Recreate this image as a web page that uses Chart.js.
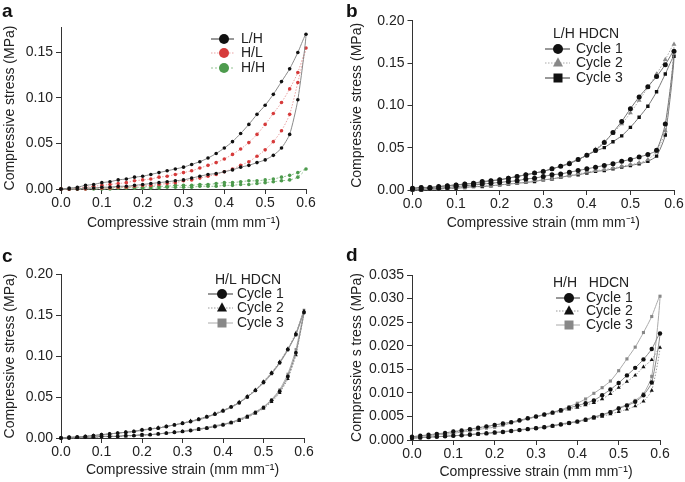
<!DOCTYPE html>
<html>
<head>
<meta charset="utf-8">
<script src="https://cdn.jsdelivr.net/npm/chart.js@4.4.1/dist/chart.umd.min.js"></script>
<style>
  body { margin: 0; background: #fff; width: 685px; height: 482px; position: relative; overflow: hidden;
         font-family: "Liberation Sans", Arial, sans-serif; }
  .panel { position: absolute; }
  .tag { position: absolute; font-weight: bold; font-size: 19px; line-height: 19px; color: #111; }
</style>
</head>
<body>
<div class="panel" style="left:0;top:0"><canvas id="chart-a" width="342" height="241"></canvas></div>
<div class="panel" style="left:342px;top:0"><canvas id="chart-b" width="343" height="241"></canvas></div>
<div class="panel" style="left:0;top:241px"><canvas id="chart-c" width="342" height="241"></canvas></div>
<div class="panel" style="left:342px;top:241px"><canvas id="chart-d" width="343" height="241"></canvas></div>
<div class="tag" style="left:2px;top:1px">a</div>
<div class="tag" style="left:346px;top:1px">b</div>
<div class="tag" style="left:2px;top:246px">c</div>
<div class="tag" style="left:346px;top:245px">d</div>

<script>
// ---- data (strain in mm/mm, stress in MPa) ----
const strainLoad   = [0.00,0.02,0.04,0.06,0.08,0.10,0.12,0.14,0.16,0.18,0.20,0.22,0.24,0.26,0.28,0.30,0.32,0.34,0.36,0.38,0.40,0.42,0.44,0.46,0.48,0.50,0.52,0.54,0.56,0.58,0.60];
const strainUnload = [0.60,0.58,0.56,0.54,0.52,0.50,0.48,0.46,0.44,0.42,0.40,0.38,0.36,0.34,0.32,0.30,0.28,0.26,0.24,0.22,0.20,0.18,0.16,0.14,0.12,0.10,0.08,0.06,0.04,0.02,0.00];

const xTicks   = [0, 0.1, 0.2, 0.3, 0.4, 0.5, 0.6];
const yTicksA  = [0, 0.05, 0.10, 0.15];
const yTicksBC = [0, 0.05, 0.10, 0.15, 0.20];
const yTicksD  = [0, 0.005, 0.010, 0.015, 0.020, 0.025, 0.030, 0.035];

// a: three laminate types
const aLHload   = [0.000,0.001,0.002,0.004,0.005,0.007,0.008,0.010,0.011,0.013,0.014,0.016,0.018,0.020,0.022,0.024,0.027,0.030,0.034,0.039,0.045,0.052,0.061,0.071,0.082,0.092,0.104,0.118,0.132,0.150,0.170];
const aLHunload = [0.170,0.098,0.060,0.045,0.037,0.032,0.029,0.026,0.024,0.021,0.019,0.017,0.016,0.014,0.012,0.010,0.009,0.008,0.007,0.006,0.005,0.004,0.003,0.003,0.002,0.002,0.001,0.001,0.000,0.000,0.000];
const aHLload   = [0.000,0.000,0.001,0.002,0.003,0.004,0.005,0.006,0.007,0.009,0.010,0.011,0.013,0.014,0.016,0.018,0.020,0.023,0.026,0.029,0.033,0.038,0.044,0.051,0.060,0.071,0.083,0.095,0.110,0.128,0.155];
const aHLunload = [0.155,0.117,0.082,0.064,0.052,0.043,0.036,0.030,0.026,0.022,0.019,0.016,0.014,0.012,0.010,0.009,0.007,0.006,0.005,0.004,0.004,0.003,0.002,0.002,0.001,0.001,0.001,0.000,0.000,0.000,0.000];
const aHHload   = [0.000,0.000,0.000,0.001,0.001,0.001,0.001,0.002,0.002,0.002,0.002,0.003,0.003,0.003,0.004,0.004,0.004,0.005,0.005,0.006,0.007,0.007,0.008,0.009,0.009,0.010,0.011,0.013,0.015,0.018,0.022];
const aHHunload = [0.022,0.013,0.010,0.009,0.008,0.007,0.006,0.005,0.005,0.004,0.004,0.003,0.003,0.003,0.002,0.002,0.002,0.002,0.001,0.001,0.001,0.001,0.001,0.001,0.000,0.000,0.000,0.000,0.000,0.000,0.000];

// b: L/H HDCN cycles
const bC1load   = [0.002,0.003,0.003,0.004,0.005,0.006,0.007,0.008,0.010,0.011,0.012,0.014,0.016,0.018,0.020,0.022,0.025,0.028,0.031,0.036,0.041,0.047,0.056,0.068,0.081,0.096,0.110,0.122,0.134,0.148,0.164];
const bC1unload = [0.164,0.078,0.047,0.042,0.039,0.036,0.034,0.031,0.029,0.027,0.025,0.023,0.021,0.019,0.018,0.016,0.014,0.013,0.011,0.010,0.009,0.008,0.007,0.006,0.005,0.004,0.003,0.002,0.002,0.001,0.001];
const bC2load   = [0.001,0.002,0.003,0.004,0.005,0.006,0.007,0.008,0.009,0.011,0.012,0.014,0.016,0.018,0.020,0.022,0.025,0.028,0.032,0.036,0.041,0.048,0.057,0.067,0.078,0.091,0.106,0.121,0.137,0.154,0.172];
const bC2unload = [0.172,0.070,0.045,0.036,0.032,0.030,0.028,0.026,0.024,0.023,0.021,0.019,0.017,0.015,0.013,0.012,0.011,0.009,0.008,0.007,0.006,0.005,0.005,0.004,0.003,0.003,0.002,0.001,0.001,0.000,0.000];
const bC3load   = [0.002,0.003,0.003,0.004,0.005,0.006,0.007,0.008,0.009,0.011,0.012,0.014,0.016,0.018,0.020,0.022,0.025,0.028,0.032,0.036,0.041,0.046,0.050,0.057,0.064,0.074,0.086,0.099,0.116,0.137,0.158];
const bC3unload = [0.158,0.065,0.040,0.034,0.031,0.029,0.027,0.025,0.023,0.022,0.020,0.018,0.017,0.015,0.013,0.012,0.010,0.009,0.008,0.007,0.006,0.005,0.004,0.004,0.003,0.002,0.002,0.001,0.001,0.000,0.000];

// c: H/L HDCN cycles
const cC1load   = [0.000,0.001,0.001,0.002,0.003,0.004,0.005,0.006,0.007,0.008,0.010,0.011,0.012,0.014,0.016,0.018,0.020,0.023,0.026,0.029,0.033,0.038,0.043,0.050,0.058,0.068,0.079,0.092,0.108,0.126,0.153];
const cC1unload = [0.153,0.104,0.075,0.057,0.046,0.037,0.031,0.026,0.022,0.019,0.016,0.014,0.012,0.011,0.009,0.008,0.007,0.006,0.005,0.004,0.004,0.003,0.003,0.002,0.002,0.002,0.001,0.001,0.001,0.000,0.000];
const cC2load   = [0.000,0.001,0.001,0.002,0.003,0.004,0.005,0.006,0.007,0.008,0.010,0.011,0.013,0.014,0.016,0.018,0.021,0.023,0.026,0.030,0.034,0.038,0.044,0.051,0.059,0.069,0.080,0.093,0.109,0.128,0.155];
const cC2unload = [0.155,0.101,0.072,0.055,0.044,0.036,0.030,0.025,0.021,0.018,0.016,0.014,0.012,0.010,0.009,0.008,0.007,0.006,0.005,0.004,0.003,0.003,0.002,0.002,0.002,0.001,0.001,0.001,0.000,0.000,0.000];
const cC3load   = [0.000,0.001,0.001,0.002,0.003,0.004,0.005,0.006,0.007,0.008,0.009,0.011,0.012,0.014,0.016,0.018,0.020,0.022,0.025,0.029,0.033,0.037,0.043,0.050,0.058,0.067,0.078,0.091,0.107,0.127,0.156];
const cC3unload = [0.156,0.108,0.078,0.059,0.047,0.038,0.032,0.027,0.023,0.019,0.017,0.015,0.013,0.011,0.010,0.008,0.007,0.006,0.005,0.004,0.004,0.003,0.003,0.002,0.002,0.002,0.001,0.001,0.001,0.000,0.000];

// d: H/H HDCN cycles
const dC1load   = [0.0007,0.0009,0.0011,0.0013,0.0015,0.0018,0.0020,0.0023,0.0026,0.0029,0.0032,0.0035,0.0038,0.0042,0.0046,0.0050,0.0054,0.0058,0.0063,0.0068,0.0073,0.0078,0.0084,0.0095,0.0107,0.0121,0.0137,0.0153,0.0171,0.0193,0.0226];
const dC1unload = [0.0226,0.0122,0.0095,0.0081,0.0073,0.0067,0.0059,0.0053,0.0048,0.0043,0.0039,0.0036,0.0033,0.0030,0.0027,0.0025,0.0023,0.0021,0.0019,0.0017,0.0016,0.0014,0.0013,0.0011,0.0010,0.0009,0.0008,0.0007,0.0006,0.0005,0.0004];
const dC2load   = [0.0006,0.0008,0.0010,0.0012,0.0014,0.0017,0.0019,0.0022,0.0025,0.0028,0.0031,0.0034,0.0037,0.0041,0.0045,0.0049,0.0053,0.0057,0.0061,0.0065,0.0069,0.0074,0.0079,0.0087,0.0098,0.0111,0.0124,0.0137,0.0155,0.0170,0.0196];
const dC2unload = [0.0196,0.0105,0.0082,0.0072,0.0065,0.0060,0.0055,0.0050,0.0046,0.0042,0.0038,0.0035,0.0032,0.0029,0.0027,0.0025,0.0023,0.0021,0.0019,0.0017,0.0015,0.0014,0.0012,0.0011,0.0010,0.0009,0.0008,0.0007,0.0006,0.0005,0.0004];
const dC3load   = [0.0007,0.0008,0.0009,0.0011,0.0012,0.0014,0.0017,0.0019,0.0022,0.0025,0.0027,0.0031,0.0036,0.0040,0.0045,0.0049,0.0054,0.0059,0.0064,0.0071,0.0078,0.0087,0.0099,0.0111,0.0125,0.0147,0.0172,0.0197,0.0228,0.0262,0.0305];
const dC3unload = [0.0305,0.0135,0.0098,0.0084,0.0075,0.0068,0.0060,0.0054,0.0049,0.0044,0.0040,0.0037,0.0034,0.0031,0.0028,0.0026,0.0024,0.0022,0.0020,0.0018,0.0016,0.0015,0.0013,0.0012,0.0010,0.0009,0.0008,0.0007,0.0006,0.0005,0.0004];

const xTitle = 'Compressive strain (mm mm\u207B\u00B9)';
const FONT = '"Liberation Sans", Arial, sans-serif';

Chart.defaults.font.family = FONT;
Chart.defaults.font.size = 14;
Chart.defaults.color = '#222';

// loading branch then unloading branch, one continuous loop
function loop(up, down) {
    const pts = strainLoad.map((x, i) => ({ x: x, y: up[i] }));
    return pts.concat(strainUnload.slice(1).map((x, i) => ({ x: x, y: down[i + 1] })));
}

function series(label, up, down, st) {
    return {
        label: label,
        data: loop(up, down),
        showLine: true,
        borderColor: st.line,
        borderWidth: 1,
        borderDash: st.dash || [],
        pointStyle: st.shape || 'circle',
        pointRadius: st.r,
        pointBackgroundColor: st.mark,
        pointBorderWidth: 0,
        tension: 0.2,
        clip: 5,
        legendLine: st.legendLine || st.line
    };
}

function drawMarker(ctx, style, x, y, r, color) {
    ctx.fillStyle = color;
    ctx.beginPath();
    if (style === 'triangle') {
        ctx.moveTo(x, y - r * 1.15); ctx.lineTo(x + r, y + r * 0.7); ctx.lineTo(x - r, y + r * 0.7); ctx.closePath();
    } else if (style === 'rect') {
        ctx.rect(x - r * 0.9, y - r * 0.9, r * 1.8, r * 1.8);
    } else {
        ctx.arc(x, y, r, 0, Math.PI * 2);
    }
    ctx.fill();
}

// legend with a line + marker sample, like the original figure
const panelLegend = {
    id: 'panelLegend',
    afterDatasetsDraw(chart, args, opts) {
        const ctx = chart.ctx;
        ctx.save();
        ctx.font = '14px ' + FONT;
        ctx.textBaseline = 'middle';
        ctx.fillStyle = '#222';
        if (opts.title) ctx.fillText(opts.title, opts.titleX, opts.titleY);
        chart.data.datasets.forEach((ds, i) => {
            const y = opts.rowY[i];
            ctx.strokeStyle = ds.legendLine;
            ctx.lineWidth = 1;
            ctx.setLineDash(ds.borderDash);
            ctx.beginPath(); ctx.moveTo(opts.lineX[0], y); ctx.lineTo(opts.lineX[1], y); ctx.stroke();
            ctx.setLineDash([]);
            drawMarker(ctx, ds.pointStyle, opts.markX, y, opts.markR, ds.pointBackgroundColor);
            ctx.fillStyle = '#222';
            ctx.fillText(ds.label, opts.textX, y);
        });
        ctx.restore();
    }
};

function makePanel(id, g, yTicks, yDigits, yMax, yTitle, datasets, legend) {
    return new Chart(document.getElementById(id), {
        type: 'scatter',
        data: { datasets: datasets },
        plugins: [panelLegend],
        options: {
            responsive: false,
            animation: false,
            devicePixelRatio: 1,
            layout: { padding: { left: 0, top: g.top, right: g.w - g.right, bottom: 0 } },
            plugins: { legend: { display: false }, tooltip: { enabled: false }, panelLegend: legend },
            scales: {
                x: {
                    type: 'linear', min: 0, max: 0.6,
                    afterBuildTicks: s => { s.ticks = xTicks.map(v => ({ value: v })); },
                    afterFit: s => { s.height = g.h - g.bottom; },
                    ticks: { callback: v => v.toFixed(1), padding: 1, maxRotation: 0, autoSkip: false },
                    grid: { drawOnChartArea: false, drawTicks: true, tickLength: 5, color: '#333' },
                    border: { display: true, color: '#333' },
                    title: { display: true, text: xTitle, padding: { top: 0, bottom: g.xtPad } }
                },
                y: {
                    type: 'linear', min: 0, max: yMax,
                    afterBuildTicks: s => { s.ticks = yTicks.map(v => ({ value: v })); },
                    afterFit: s => { s.width = g.left; },
                    ticks: { callback: v => v.toFixed(yDigits), padding: 3, autoSkip: false },
                    grid: { drawOnChartArea: false, drawTicks: true, tickLength: 5, color: '#333' },
                    border: { display: true, color: '#333' },
                    title: { display: true, text: yTitle, padding: { top: g.ytPad, bottom: 0 } }
                }
            }
        }
    });
}

// ---- panel a ----
makePanel('chart-a', { w: 342, h: 241, left: 61, top: 27, right: 306, bottom: 189, xtPad: 9, ytPad: 2 },
    yTicksA, 2, 0.178, 'Compressive stress (MPa)', [
        series('L/H', aLHload, aLHunload, { line: '#8a8a8a', mark: '#111', r: 1.8, legendLine: '#333' }),
        series('H/L', aHLload, aHLunload, { line: '#e9a3a3', mark: '#d63b3b', r: 1.8, dash: [1.5, 1.5] }),
        series('H/H', aHHload, aHHunload, { line: '#93c493', mark: '#4d9b4d', r: 1.8, dash: [2, 2] })
    ],
    { rowY: [39, 53, 68], lineX: [211, 234], markX: 224, markR: 5, textX: 241 });

// ---- panel b ----
makePanel('chart-b', { w: 343, h: 241, left: 70.5, top: 20.7, right: 332, bottom: 190, xtPad: 9, ytPad: 7 },
    yTicksBC, 2, 0.20, 'Compressive stress (MPa)', [
        series('Cycle 1', bC1load, bC1unload, { line: '#777', mark: '#111', r: 2.5, legendLine: '#333' }),
        series('Cycle 2', bC2load, bC2unload, { line: '#aaa', mark: '#888', r: 2.8, shape: 'triangle', dash: [1.5, 1.5] }),
        series('Cycle 3', bC3load, bC3unload, { line: '#777', mark: '#111', r: 2.4, shape: 'rect', legendLine: '#333' })
    ],
    { title: 'L/H HDCN', titleX: 211, titleY: 34, rowY: [49, 63, 78], lineX: [203, 228], markX: 216, markR: 5, textX: 234 });

// ---- panel c ----
makePanel('chart-c', { w: 342, h: 241, left: 61, top: 33, right: 304, bottom: 197, xtPad: 3, ytPad: 2 },
    yTicksBC, 2, 0.20, 'Compressive stress (MPa)', [
        series('Cycle 1', cC1load, cC1unload, { line: '#888', mark: '#111', r: 1.9, legendLine: '#333' }),
        series('Cycle 2', cC2load, cC2unload, { line: '#999', mark: '#111', r: 2.2, shape: 'triangle', dash: [1.5, 1.5] }),
        series('Cycle 3', cC3load, cC3unload, { line: '#aaa', mark: '#888', r: 1.9, shape: 'rect' })
    ],
    { title: 'H/L HDCN', titleX: 215, titleY: 39, rowY: [53, 67, 82], lineX: [208, 233], markX: 222, markR: 5, textX: 237 });

// ---- panel d ----
makePanel('chart-d', { w: 343, h: 241, left: 70, top: 34, right: 318, bottom: 199, xtPad: 1, ytPad: 7 },
    yTicksD, 3, 0.035, 'Compressive s tress (MPa)', [
        series('Cycle 1', dC1load, dC1unload, { line: '#888', mark: '#111', r: 2.2, legendLine: '#333' }),
        series('Cycle 2', dC2load, dC2unload, { line: '#999', mark: '#111', r: 2.4, shape: 'triangle', dash: [1.5, 1.5] }),
        series('Cycle 3', dC3load, dC3unload, { line: '#aaa', mark: '#888', r: 2.2, shape: 'rect' })
    ],
    { title: 'H/H   HDCN', titleX: 211, titleY: 42, rowY: [57, 70, 84], lineX: [214, 238], markX: 227, markR: 5, textX: 244 });
</script>
</body>
</html>
